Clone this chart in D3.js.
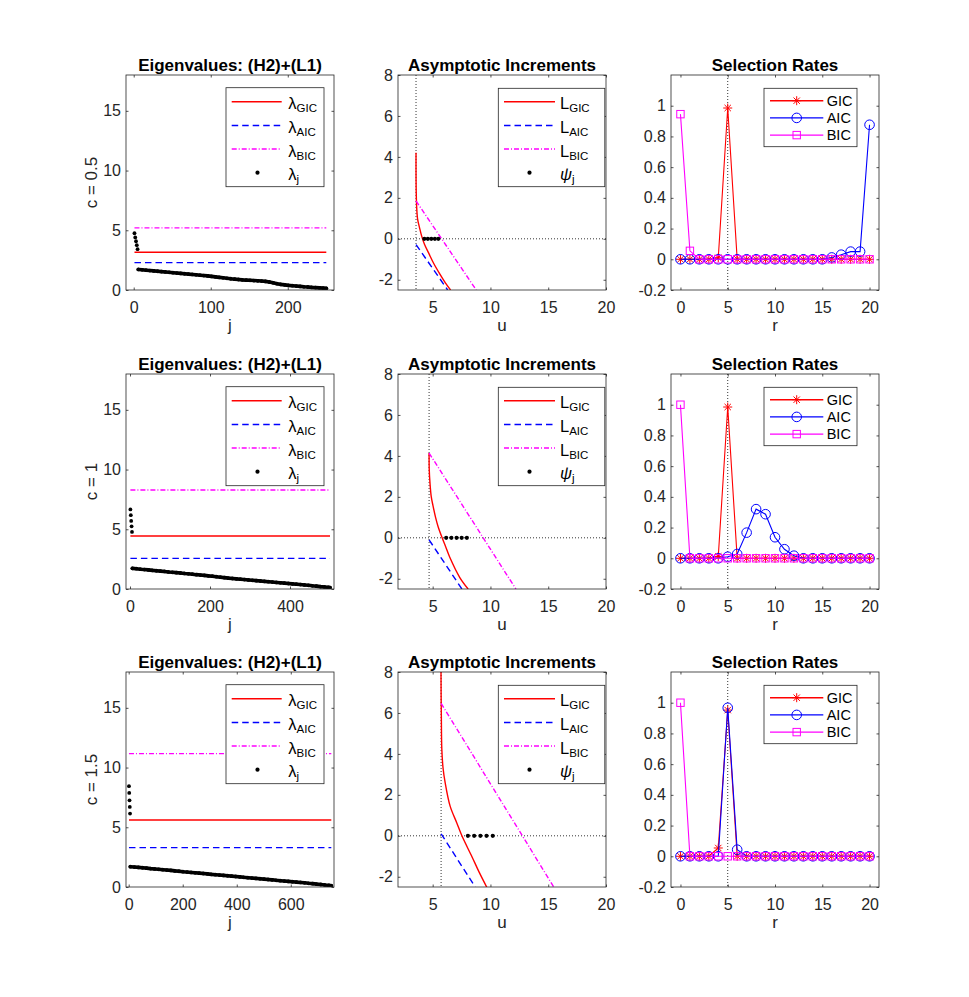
<!DOCTYPE html>
<html>
<head>
<meta charset="utf-8">
<script src="https://cdn.jsdelivr.net/npm/d3@7"></script>
<style>
  body { margin: 0; background: #fff; }
  text { font-family: "Liberation Sans", Arial, Helvetica, sans-serif; }
</style>
</head>
<body>
<div id="chart"></div>
<script>
// ---------------- data ----------------
const rowLabels = ["c = 0.5", "c = 1", "c = 1.5"];
const colTitles = ["Eigenvalues: (H2)+(L1)", "Asymptotic Increments", "Selection Rates"];
const pSizes = [250, 500, 750];
const bulkStep = [5, 10, 15];

// leading (spiked) eigenvalues, j = 1..5
const spikeEig = [
  [4.75, 4.40, 4.08, 3.75, 3.42],
  [6.66, 6.18, 5.70, 5.25, 4.78],
  [8.44, 7.88, 7.26, 6.70, 6.15]
];
// bulk eigenvalues, sampled every bulkStep index from j = 6, last one at j = p
const bulkEig1 = [1.72, 1.69, 1.66, 1.63, 1.60, 1.57, 1.54, 1.51, 1.48, 1.45, 1.42, 1.39, 1.36, 1.33, 1.30, 1.27, 1.24,
  1.21, 1.18, 1.14, 1.10, 1.06, 1.02, 0.98, 0.94, 0.91, 0.88, 0.85, 0.83, 0.81, 0.79, 0.77, 0.75, 0.72, 0.67, 0.60,
  0.53, 0.47, 0.43, 0.39, 0.36, 0.33, 0.30, 0.27, 0.25, 0.22, 0.20, 0.18, 0.16, 0.14];
const bulkEig2 = [1.73, 1.70, 1.66, 1.63, 1.60, 1.56, 1.53, 1.50, 1.47, 1.43, 1.40, 1.37, 1.34, 1.30, 1.27, 1.24, 1.20,
  1.17, 1.14, 1.10, 1.07, 1.03, 0.99, 0.95, 0.91, 0.88, 0.85, 0.82, 0.79, 0.76, 0.73, 0.70, 0.67, 0.64, 0.61, 0.58,
  0.55, 0.52, 0.49, 0.46, 0.43, 0.40, 0.37, 0.34, 0.31, 0.27, 0.24, 0.20, 0.17, 0.14, 0.12];
const bulkEig3 = [1.70, 1.67, 1.64, 1.61, 1.58, 1.54, 1.51, 1.48, 1.45, 1.42, 1.39, 1.35, 1.32, 1.28, 1.25, 1.22, 1.19,
  1.16, 1.13, 1.10, 1.06, 1.03, 1.00, 0.97, 0.94, 0.91, 0.88, 0.85, 0.81, 0.78, 0.75, 0.72, 0.69, 0.66, 0.63, 0.60,
  0.56, 0.53, 0.50, 0.47, 0.44, 0.41, 0.38, 0.35, 0.31, 0.28, 0.24, 0.21, 0.17, 0.14, 0.11];
const bulkEig = [bulkEig1, bulkEig2, bulkEig3];

const lamGIC = [3.16, 4.44, 5.61];
const lamAIC = [2.29, 2.56, 3.30];
const lamBIC = [5.20, 8.29, 11.17];

// asymptotic increments: [u, L(u)]
const uLower = [3.56, 4.69, 5.73];
const incGIC = [
  [[3.56, 4.2], [3.56, 3.2], [3.58, 2.2], [3.62, 1.5], [3.7, 0.95], [3.86, 0.55], [4.05, 0.13], [4.3, -0.28],
   [4.7, -0.75], [5.07, -1.18], [5.6, -1.7], [6.1, -2.15], [6.55, -2.5]],
  [[4.69, 4.14], [4.70, 3.4], [4.77, 2.66], [4.88, 2.0], [5.05, 1.51], [5.25, 1.0], [5.48, 0.53], [5.82, 0],
   [6.1, -0.4], [6.48, -0.95], [7.35, -1.94], [8.07, -2.5]],
  [[5.72, 8.5], [5.73, 7.0], [5.75, 5.89], [5.79, 4.25], [5.9, 3.3], [6.08, 2.6], [6.51, 1.45], [7.09, 0.63],
   [7.53, 0], [8.4, -1.02], [9.0, -1.75], [9.7, -2.53]]
];
const incAIC = [
  [[3.56, -0.28], [6.3, -2.5]],
  [[4.69, -0.1], [7.53, -2.5]],
  [[5.73, 0.1], [8.68, -2.5]]
];
const incBIC = [
  [[3.56, 1.85], [8.77, -2.5]],
  [[4.69, 4.14], [12.2, -2.5]],
  [[5.73, 6.47], [15.48, -2.5]]
];
const psiVals = [
  [4.28, 4.58, 4.88, 5.19, 5.49],
  [6.17, 6.62, 7.07, 7.51, 7.96],
  [8.05, 8.59, 9.13, 9.66, 10.2]
];

// selection rates for r = 0..20
const rVals = d3.range(0, 21);
const rateGIC = [
  [0, 0, 0, 0, 0.01, 0.985, 0, 0, 0, 0, 0, 0, 0, 0, 0, 0, 0, 0, 0, 0, 0],
  [0, 0, 0, 0, 0.012, 0.985, 0, 0, 0, 0, 0, 0, 0, 0, 0, 0, 0, 0, 0, 0, 0],
  [0, 0, 0, 0, 0.054, 0.952, 0, 0, 0, 0, 0, 0, 0, 0, 0, 0, 0, 0, 0, 0, 0]
];
const rateAIC = [
  [0, 0, 0, 0, 0, 0, 0, 0, 0, 0, 0, 0, 0, 0, 0, 0, 0.012, 0.03, 0.05, 0.05, 0.876],
  [0, 0, 0, 0, 0, 0.01, 0.028, 0.167, 0.32, 0.287, 0.137, 0.059, 0.017, 0, 0, 0, 0, 0, 0, 0, 0],
  [0, 0, 0, 0, 0, 0.967, 0.043, 0, 0, 0, 0, 0, 0, 0, 0, 0, 0, 0, 0, 0, 0]
];
const rateBIC = [
  [0.945, 0.055, 0, 0, 0, 0, 0, 0, 0, 0, 0, 0, 0, 0, 0, 0, 0, 0, 0, 0, 0],
  [1.0, 0, 0, 0, 0, 0, 0, 0, 0, 0, 0, 0, 0, 0, 0, 0, 0, 0, 0, 0, 0],
  [1.0, 0, 0, 0, 0, 0, 0, 0, 0, 0, 0, 0, 0, 0, 0, 0, 0, 0, 0, 0, 0]
];
const rTrue = 5;

// tick labels
const eigXTicks = [[0, 100, 200], [0, 200, 400], [0, 200, 400, 600]];
const eigYTicks = [0, 5, 10, 15];
const incXTicks = [5, 10, 15, 20];
const incYTicks = [-2, 0, 2, 4, 6, 8];
const rateXTicks = [0, 5, 10, 15, 20];
const rateYTicks = [-0.2, 0, 0.2, 0.4, 0.6, 0.8, 1];

// ---------------- layout ----------------
const W = 208, H = 215;
const colX = [126, 398, 671];
const rowY = [75, 374, 672];
const axisCol = "#262626";
const RED = "#ff0000", BLUE = "#0000ff", MAG = "#ff00ff";
const LW = 1.4;
const dashA = "6.5,4", dashB = "5,2,1,2", dotted = "1,2";

const svg = d3.select("#chart").append("svg")
  .attr("width", 969).attr("height", 997);

let clipId = 0;

function fmt(d) { return String(+d.toFixed(1)); }

function frame(g, x, y, xTicks, yTicks) {
  const tl = 2.5;
  const styleAxis = sel => {
    sel.attr("font-size", 16).attr("font-family", null);
    sel.select(".domain").remove();
    sel.selectAll(".tick line").attr("stroke", axisCol).attr("stroke-width", 0.8);
    sel.selectAll(".tick text").attr("fill", axisCol);
  };
  g.append("g").attr("transform", "translate(0," + H + ")")
    .call(d3.axisBottom(x).tickValues(xTicks).tickSize(-tl).tickPadding(12).tickFormat(fmt))
    .call(styleAxis);
  g.append("g")
    .call(d3.axisTop(x).tickValues(xTicks).tickSize(-tl).tickFormat(""))
    .call(styleAxis);
  g.append("g")
    .call(d3.axisLeft(y).tickValues(yTicks).tickSize(-tl).tickPadding(5).tickFormat(fmt))
    .call(styleAxis);
  g.append("g").attr("transform", "translate(" + W + ",0)")
    .call(d3.axisRight(y).tickValues(yTicks).tickSize(-tl).tickFormat(""))
    .call(styleAxis);
  g.append("rect").attr("width", W).attr("height", H)
    .attr("fill", "none").attr("stroke", axisCol).attr("stroke-width", 0.8);
}

function plotArea(g) {
  const id = "clip" + (clipId++);
  g.append("clipPath").attr("id", id).append("rect").attr("width", W).attr("height", H);
  return g.append("g").attr("clip-path", "url(#" + id + ")");
}

function legendBox(g, bx, by, bw, bh) {
  g.append("rect").attr("x", bx).attr("y", by).attr("width", bw).attr("height", bh)
    .attr("fill", "#fff").attr("stroke", axisCol).attr("stroke-width", 0.8);
}

function subLabel(g, tx, ty, main, sub, italic) {
  const t = g.append("text").attr("x", tx).attr("y", ty).attr("font-size", 16.5).attr("fill", "#000");
  t.append("tspan").text(main).attr("font-style", italic ? "italic" : null);
  t.append("tspan").text(sub).attr("font-size", 11.5).attr("dy", 3);
}

function sampleLine(g, x1, x2, yy, color, dash) {
  g.append("line").attr("x1", x1).attr("x2", x2).attr("y1", yy).attr("y2", yy)
    .attr("stroke", color).attr("stroke-width", LW).attr("stroke-dasharray", dash);
}

function asterisk(s) {
  const k = s * 0.707;
  return `M${-s},0L${s},0M0,${-s}L0,${s}M${-k},${-k}L${k},${k}M${-k},${k}L${k},${-k}`;
}

function drawMarker(g, kind, cx, cy, color) {
  if (kind === "star") {
    g.append("path").attr("d", asterisk(4.5)).attr("transform", `translate(${cx},${cy})`)
      .attr("stroke", color).attr("stroke-width", 1).attr("fill", "none");
  } else if (kind === "circle") {
    g.append("circle").attr("cx", cx).attr("cy", cy).attr("r", 4.8)
      .attr("stroke", color).attr("stroke-width", 1).attr("fill", "none");
  } else {
    g.append("rect").attr("x", cx - 3.7).attr("y", cy - 3.7).attr("width", 7.4).attr("height", 7.4)
      .attr("stroke", color).attr("stroke-width", 1).attr("fill", "none");
  }
}

function panelText(g, title, xlab) {
  g.append("text").attr("x", W / 2).attr("y", -4.5).attr("text-anchor", "middle")
    .attr("font-size", 17).attr("font-weight", "bold").attr("fill", "#000").text(title);
  g.append("text").attr("x", W / 2).attr("y", H + 41).attr("text-anchor", "middle")
    .attr("font-size", 17).attr("fill", axisCol).text(xlab);
}

// ---------------- panels ----------------
for (let r = 0; r < 3; r++) {
  const top = rowY[r];
  const p = pSizes[r];

  // ---- eigenvalues ----
  {
    const g = svg.append("g").attr("transform", `translate(${colX[0]},${top})`);
    const x = d3.scaleLinear().domain([-10, p + 10]).range([0, W]);
    const y = d3.scaleLinear().domain([0, 18]).range([H, 0]);
    const area = plotArea(g);
    const hl = (val, color, dash) => area.append("line")
      .attr("x1", x(1)).attr("x2", x(p)).attr("y1", y(val)).attr("y2", y(val))
      .attr("stroke", color).attr("stroke-width", LW).attr("stroke-dasharray", dash);
    hl(lamGIC[r], RED, null);
    hl(lamAIC[r], BLUE, dashA);
    hl(lamBIC[r], MAG, dashB);

    const js = d3.range(6, p, bulkStep[r]).concat([p]);
    const bulkPts = bulkEig[r].map((v, i) => [js[i], v]);
    const pts = spikeEig[r].map((v, i) => [i + 1, v]).concat(bulkPts);
    // the bulk dots are so dense that they merge into a thick band
    area.append("path")
      .attr("d", d3.line().x(d => x(d[0])).y(d => y(d[1]))(bulkPts))
      .attr("fill", "none").attr("stroke", "#000").attr("stroke-width", 3.6)
      .attr("stroke-linecap", "round").attr("stroke-linejoin", "round");
    area.selectAll("circle.eig").data(pts).enter().append("circle")
      .attr("class", "eig")
      .attr("cx", d => x(d[0])).attr("cy", d => y(d[1])).attr("r", 1.9).attr("fill", "#000");

    frame(g, x, y, eigXTicks[r], eigYTicks);
    panelText(g, colTitles[0], "j");
    g.append("text").attr("transform", `translate(-29,${H / 2}) rotate(-90)`)
      .attr("text-anchor", "middle").attr("font-size", 17).attr("fill", axisCol).text(rowLabels[r]);

    // legend
    const lg = g.append("g");
    legendBox(lg, 100, 12.7, 98, 99);
    const ys = [26.7, 50.5, 74, 97.7];
    sampleLine(lg, 105.7, 155.7, ys[0], RED, null);
    sampleLine(lg, 105.7, 155.7, ys[1], BLUE, dashA);
    sampleLine(lg, 105.7, 155.7, ys[2], MAG, dashB);
    lg.append("circle").attr("cx", 131.5).attr("cy", ys[3]).attr("r", 2.1).attr("fill", "#000");
    subLabel(lg, 162.3, ys[0] + 7.5, "λ", "GIC");
    subLabel(lg, 162.3, ys[1] + 7.5, "λ", "AIC");
    subLabel(lg, 162.3, ys[2] + 7.5, "λ", "BIC");
    subLabel(lg, 162.3, ys[3] + 7.5, "λ", "j");
  }

  // ---- asymptotic increments ----
  {
    const g = svg.append("g").attr("transform", `translate(${colX[1]},${top})`);
    const x = d3.scaleLinear().domain([2, 20]).range([0, W]);
    const y = d3.scaleLinear().domain([-2.5, 8]).range([H, 0]);
    const area = plotArea(g);
    area.append("line").attr("x1", 0).attr("x2", W).attr("y1", y(0)).attr("y2", y(0))
      .attr("stroke", "#000").attr("stroke-width", 0.8).attr("stroke-dasharray", dotted);
    area.append("line").attr("x1", x(uLower[r])).attr("x2", x(uLower[r])).attr("y1", 0).attr("y2", H)
      .attr("stroke", "#000").attr("stroke-width", 0.8).attr("stroke-dasharray", dotted);

    const line = d3.line().x(d => x(d[0])).y(d => y(d[1]));
    area.append("path").attr("d", line.curve(d3.curveCatmullRom.alpha(0.5))(incGIC[r]))
      .attr("fill", "none").attr("stroke", RED).attr("stroke-width", LW);
    area.append("path").attr("d", line.curve(d3.curveLinear)(incAIC[r]))
      .attr("fill", "none").attr("stroke", BLUE).attr("stroke-width", LW).attr("stroke-dasharray", dashA);
    area.append("path").attr("d", line.curve(d3.curveLinear)(incBIC[r]))
      .attr("fill", "none").attr("stroke", MAG).attr("stroke-width", LW).attr("stroke-dasharray", dashB);
    area.selectAll("circle.psi").data(psiVals[r]).enter().append("circle")
      .attr("class", "psi")
      .attr("cx", d => x(d)).attr("cy", y(0)).attr("r", 2.1).attr("fill", "#000");

    frame(g, x, y, incXTicks, incYTicks);
    panelText(g, colTitles[1], "u");

    const lg = g.append("g");
    legendBox(lg, 100.3, 13.3, 106.5, 98.4);
    const ys = [26.7, 50.5, 74, 97.7];
    sampleLine(lg, 106, 157, ys[0], RED, null);
    sampleLine(lg, 106, 157, ys[1], BLUE, dashA);
    sampleLine(lg, 106, 157, ys[2], MAG, dashB);
    lg.append("circle").attr("cx", 131.5).attr("cy", ys[3]).attr("r", 2.1).attr("fill", "#000");
    subLabel(lg, 162, ys[0] + 7.5, "L", "GIC");
    subLabel(lg, 162, ys[1] + 7.5, "L", "AIC");
    subLabel(lg, 162, ys[2] + 7.5, "L", "BIC");
    subLabel(lg, 162, ys[3] + 7.5, "ψ", "j", true);
  }

  // ---- selection rates ----
  {
    const g = svg.append("g").attr("transform", `translate(${colX[2]},${top})`);
    const x = d3.scaleLinear().domain([-1, 21]).range([0, W]);
    const y = d3.scaleLinear().domain([-0.2, 1.2]).range([H, 0]);
    const area = plotArea(g);
    area.append("line").attr("x1", x(rTrue)).attr("x2", x(rTrue)).attr("y1", 0).attr("y2", H)
      .attr("stroke", "#000").attr("stroke-width", 0.8).attr("stroke-dasharray", dotted);

    const series = [
      { vals: rateGIC[r], color: RED, marker: "star", name: "GIC" },
      { vals: rateAIC[r], color: BLUE, marker: "circle", name: "AIC" },
      { vals: rateBIC[r], color: MAG, marker: "square", name: "BIC" }
    ];
    const line = d3.line().x((d, i) => x(rVals[i])).y(d => y(d));
    series.forEach(s => {
      area.append("path").attr("d", line(s.vals))
        .attr("fill", "none").attr("stroke", s.color).attr("stroke-width", 1.1);
      s.vals.forEach((v, i) => drawMarker(area, s.marker, x(rVals[i]), y(v), s.color));
    });

    frame(g, x, y, rateXTicks, rateYTicks);
    panelText(g, colTitles[2], "r");

    const lg = g.append("g");
    legendBox(lg, 93, 13.3, 93, 58.4);
    const ys = [25.7, 42.9, 60.1];
    series.forEach((s, k) => {
      sampleLine(lg, 99, 152.3, ys[k], s.color, null);
      drawMarker(lg, s.marker, 125.7, ys[k], s.color);
      lg.append("text").attr("x", 155.7).attr("y", ys[k] + 5.3).attr("font-size", 14.5)
        .attr("fill", "#000").text(s.name);
    });
  }
}
</script>
</body>
</html>
